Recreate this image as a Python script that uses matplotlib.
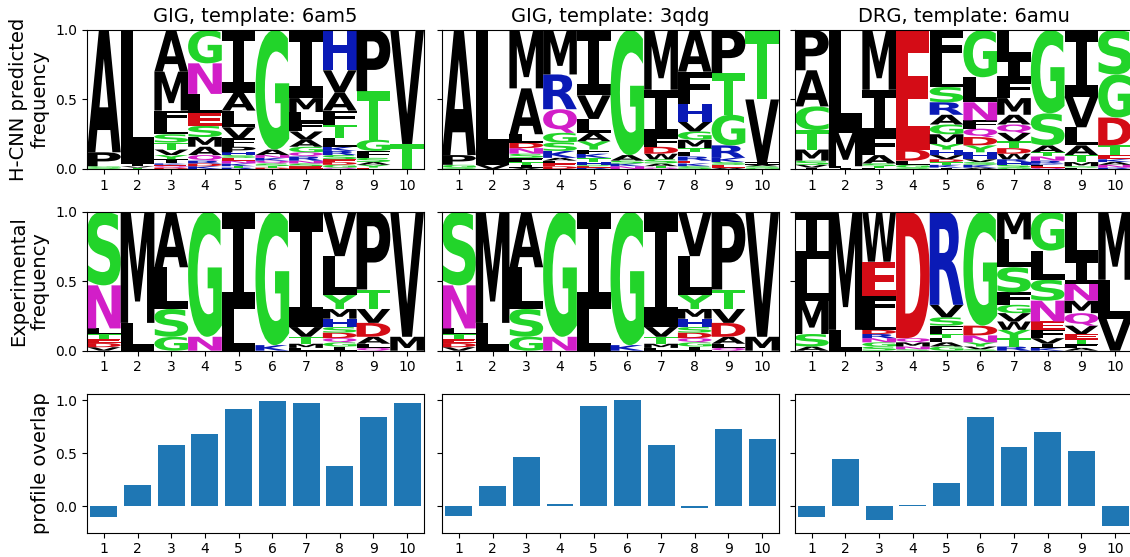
import matplotlib
matplotlib.use("Agg")
import matplotlib.pyplot as plt
from matplotlib.textpath import TextPath
from matplotlib.patches import PathPatch
from matplotlib.font_manager import FontProperties
from matplotlib.transforms import Affine2D

positions = list(range(1, 11))
titles = ["GIG, template: 6am5", "GIG, template: 3qdg", "DRG, template: 6amu"]
row_labels = ["H-CNN predicted\nfrequency", "Experimental\nfrequency", "profile overlap"]

# letter frequencies per position, listed roughly top-to-bottom as read off the logo
pred_6am5 = [
    {"A": 0.88, "P": 0.10, "G": 0.01, "S": 0.01},
    {"L": 0.96, "I": 0.02, "V": 0.01, "T": 0.01},
    {"A": 0.30, "M": 0.28, "F": 0.09, "L": 0.08, "S": 0.06, "T": 0.05, "V": 0.04,
     "Y": 0.03, "I": 0.03, "K": 0.01, "E": 0.01, "Q": 0.01, "D": 0.01},
    {"G": 0.24, "N": 0.22, "L": 0.14, "E": 0.09, "S": 0.08, "M": 0.07, "A": 0.06,
     "Q": 0.04, "R": 0.02, "D": 0.02, "K": 0.02},
    {"I": 0.45, "A": 0.13, "L": 0.12, "V": 0.08, "F": 0.06, "P": 0.04, "H": 0.02,
     "S": 0.02, "E": 0.02, "N": 0.02, "K": 0.02, "T": 0.01, "R": 0.01},
    {"G": 0.86, "A": 0.04, "N": 0.02, "K": 0.02, "Q": 0.02, "S": 0.02, "T": 0.01, "D": 0.01},
    {"I": 0.49, "M": 0.10, "L": 0.07, "F": 0.07, "V": 0.06, "A": 0.05, "G": 0.04,
     "Q": 0.03, "R": 0.03, "N": 0.02, "S": 0.02, "E": 0.02},
    {"H": 0.29, "V": 0.16, "A": 0.13, "F": 0.10, "T": 0.10, "L": 0.06, "K": 0.03,
     "R": 0.03, "S": 0.03, "E": 0.02, "D": 0.02, "G": 0.02, "Q": 0.01},
    {"P": 0.44, "T": 0.35, "G": 0.08, "F": 0.05, "S": 0.03, "A": 0.02, "Y": 0.02, "E": 0.01},
    {"V": 0.82, "T": 0.18},
]

pred_3qdg = [
    {"A": 0.90, "P": 0.07, "G": 0.02, "S": 0.01},
    {"L": 0.97, "V": 0.03},
    {"M": 0.42, "A": 0.33, "L": 0.06, "D": 0.04, "N": 0.04, "S": 0.03, "F": 0.03,
     "T": 0.02, "I": 0.02, "V": 0.01},
    {"M": 0.32, "R": 0.25, "Q": 0.17, "G": 0.07, "S": 0.06, "K": 0.05, "A": 0.02,
     "L": 0.02, "E": 0.02, "D": 0.02},
    {"I": 0.47, "V": 0.17, "L": 0.10, "A": 0.06, "Y": 0.06, "F": 0.03, "K": 0.03,
     "T": 0.03, "H": 0.02, "S": 0.01, "E": 0.01, "R": 0.01},
    {"G": 0.90, "A": 0.04, "S": 0.02, "K": 0.02, "N": 0.02},
    {"M": 0.43, "I": 0.34, "F": 0.07, "D": 0.05, "W": 0.04, "S": 0.03, "A": 0.02,
     "T": 0.01, "Q": 0.01},
    {"A": 0.30, "F": 0.23, "H": 0.13, "V": 0.07, "G": 0.06, "M": 0.06, "T": 0.03,
     "L": 0.03, "R": 0.03, "E": 0.02, "K": 0.02, "S": 0.02},
    {"P": 0.31, "T": 0.30, "G": 0.22, "R": 0.09, "K": 0.03, "S": 0.02, "E": 0.02, "A": 0.01},
    {"T": 0.50, "V": 0.45, "I": 0.02, "A": 0.01, "S": 0.01, "G": 0.01},
]

pred_6amu = [
    {"P": 0.29, "A": 0.26, "C": 0.17, "T": 0.14, "M": 0.08, "S": 0.03, "V": 0.02, "I": 0.01},
    {"L": 0.74, "M": 0.24, "F": 0.01, "I": 0.01},
    {"M": 0.43, "I": 0.33, "F": 0.14, "A": 0.06, "S": 0.02, "T": 0.01, "L": 0.01},
    {"E": 0.86, "D": 0.08, "L": 0.03, "G": 0.02, "S": 0.01},
    {"F": 0.29, "L": 0.12, "S": 0.11, "R": 0.09, "A": 0.07, "G": 0.07, "M": 0.07,
     "Y": 0.04, "H": 0.04, "V": 0.03, "D": 0.02, "T": 0.02, "K": 0.02, "I": 0.01},
    {"G": 0.34, "L": 0.18, "N": 0.13, "F": 0.06, "Q": 0.06, "D": 0.06, "Y": 0.05,
     "H": 0.05, "V": 0.02, "S": 0.02, "K": 0.02, "A": 0.01},
    {"L": 0.20, "I": 0.16, "F": 0.13, "M": 0.12, "A": 0.07, "Q": 0.06, "V": 0.06,
     "T": 0.05, "D": 0.04, "W": 0.04, "R": 0.02, "H": 0.02, "S": 0.02, "G": 0.01},
    {"G": 0.60, "S": 0.23, "A": 0.05, "T": 0.03, "N": 0.03, "R": 0.02, "K": 0.01,
     "L": 0.01, "E": 0.01, "Q": 0.01},
    {"I": 0.48, "V": 0.22, "L": 0.13, "A": 0.07, "T": 0.05, "M": 0.03, "S": 0.01, "F": 0.01},
    {"S": 0.32, "G": 0.31, "D": 0.20, "T": 0.07, "E": 0.03, "K": 0.02, "A": 0.02,
     "N": 0.02, "R": 0.01},
]

exp_gig = [
    {"S": 0.53, "N": 0.31, "L": 0.04, "T": 0.035, "E": 0.03, "D": 0.03, "V": 0.025},
    {"M": 0.80, "L": 0.19, "I": 0.01},
    {"A": 0.40, "L": 0.30, "S": 0.20, "G": 0.10},
    {"G": 0.90, "N": 0.10},
    {"I": 0.70, "L": 0.30},
    {"G": 0.96, "K": 0.04},
    {"I": 0.83, "V": 0.07, "T": 0.05, "M": 0.03, "L": 0.02},
    {"V": 0.32, "L": 0.28, "Y": 0.10, "M": 0.07, "H": 0.06, "S": 0.04, "D": 0.04,
     "Q": 0.03, "G": 0.03, "I": 0.03},
    {"P": 0.56, "T": 0.14, "V": 0.10, "D": 0.10, "A": 0.05, "L": 0.03, "Q": 0.02},
    {"V": 0.90, "M": 0.10},
]

exp_drg = [
    {"I": 0.34, "L": 0.30, "M": 0.24, "S": 0.09, "A": 0.03},
    {"M": 0.85, "L": 0.15},
    {"W": 0.36, "E": 0.25, "F": 0.15, "L": 0.09, "D": 0.03, "R": 0.03, "N": 0.03,
     "G": 0.03, "S": 0.03},
    {"D": 0.91, "Q": 0.03, "M": 0.03, "N": 0.02, "S": 0.01},
    {"R": 0.67, "V": 0.09, "S": 0.06, "F": 0.06, "T": 0.03, "L": 0.03, "A": 0.03, "G": 0.03},
    {"G": 0.82, "D": 0.07, "N": 0.05, "Y": 0.03, "V": 0.02, "S": 0.01},
    {"M": 0.20, "L": 0.20, "S": 0.18, "F": 0.09, "G": 0.06, "V": 0.06, "W": 0.06,
     "Y": 0.06, "T": 0.06, "R": 0.03},
    {"G": 0.28, "L": 0.21, "S": 0.15, "N": 0.15, "E": 0.06, "F": 0.06, "V": 0.04,
     "I": 0.03, "K": 0.02},
    {"L": 0.34, "I": 0.18, "N": 0.12, "M": 0.09, "Q": 0.09, "V": 0.06, "E": 0.04,
     "T": 0.03, "F": 0.03, "A": 0.02},
    {"M": 0.49, "L": 0.28, "V": 0.23},
]

overlap_6am5 = [-0.10, 0.20, 0.58, 0.68, 0.92, 0.99, 0.97, 0.38, 0.84, 0.97]
overlap_3qdg = [-0.09, 0.19, 0.46, 0.025, 0.94, 1.00, 0.58, -0.02, 0.73, 0.63]
overlap_6amu = [-0.10, 0.44, -0.13, 0.015, 0.22, 0.84, 0.56, 0.70, 0.52, -0.19]

predicted = [pred_6am5, pred_3qdg, pred_6amu]
experimental = [exp_gig, exp_gig, exp_drg]
overlaps = [overlap_6am5, overlap_3qdg, overlap_6amu]

# chemistry colouring
COLORS = {}
for aa in "GSTYC":
    COLORS[aa] = "#22d42a"
for aa in "QN":
    COLORS[aa] = "#d21ec8"
for aa in "KRH":
    COLORS[aa] = "#0a1ab6"
for aa in "DE":
    COLORS[aa] = "#d40c16"
for aa in "AVLIPWFM":
    COLORS[aa] = "black"

SANS = FontProperties(family="DejaVu Sans", weight="bold")
MONO = FontProperties(family="DejaVu Sans Mono", weight="bold")  # serifed I
_paths = {}


def letter_path(ch):
    if ch not in _paths:
        prop = MONO if ch == "I" else SANS
        _paths[ch] = TextPath((0, 0), ch, size=1, prop=prop)
    return _paths[ch]


def draw_letter(ax, ch, x, y0, h):
    p = letter_path(ch)
    ext = p.get_extents()
    t = (Affine2D().translate(-ext.x0, -ext.y0)
         .scale(1.0 / ext.width, h / ext.height)
         .translate(x - 0.5, y0))
    ax.add_patch(PathPatch(t.transform_path(p), fc=COLORS[ch], ec="none", lw=0))


def draw_logo(ax, columns):
    for x, col in zip(positions, columns):
        # biggest on top; stable sort keeps listed order for ties
        items = sorted(col.items(), key=lambda kv: -kv[1])[::-1]
        y = 0.0
        for ch, h in items:
            if h > 0.003:
                draw_letter(ax, ch, x, y, h)
            y += h
    ax.set_xlim(0.5, 10.5)
    ax.set_ylim(0, 1)
    ax.set_xticks(positions)
    ax.set_yticks([0, 0.5, 1.0])


fig = plt.figure(figsize=(11.3, 5.57), dpi=100)

lefts = [0.0770, 0.3912, 0.7035]
bottoms = [0.6966, 0.3704, 0.0436]
w, h = 0.2982, 0.2496

bar_axes = []
for j in range(3):
    ax1 = fig.add_axes([lefts[j], bottoms[0], w, h])
    draw_logo(ax1, predicted[j])
    ax1.set_title(titles[j], fontsize=14)

    ax2 = fig.add_axes([lefts[j], bottoms[1], w, h])
    draw_logo(ax2, experimental[j])

    ax3 = fig.add_axes([lefts[j], bottoms[2], w, h],
                       sharey=bar_axes[0] if bar_axes else None)
    ax3.bar(positions, overlaps[j], color="C0")
    ax3.set_xticks(positions)
    ax3.set_xlim(0.5, 10.5)
    bar_axes.append(ax3)

    for ax, lab in zip([ax1, ax2, ax3], row_labels):
        ax.tick_params(labelsize=10)
        if j == 0:
            ax.set_ylabel(lab, fontsize=14)
        else:
            ax.tick_params(labelleft=False)

bar_axes[0].set_yticks([0.0, 0.5, 1.0])

fig.savefig("out.png", dpi=100)
